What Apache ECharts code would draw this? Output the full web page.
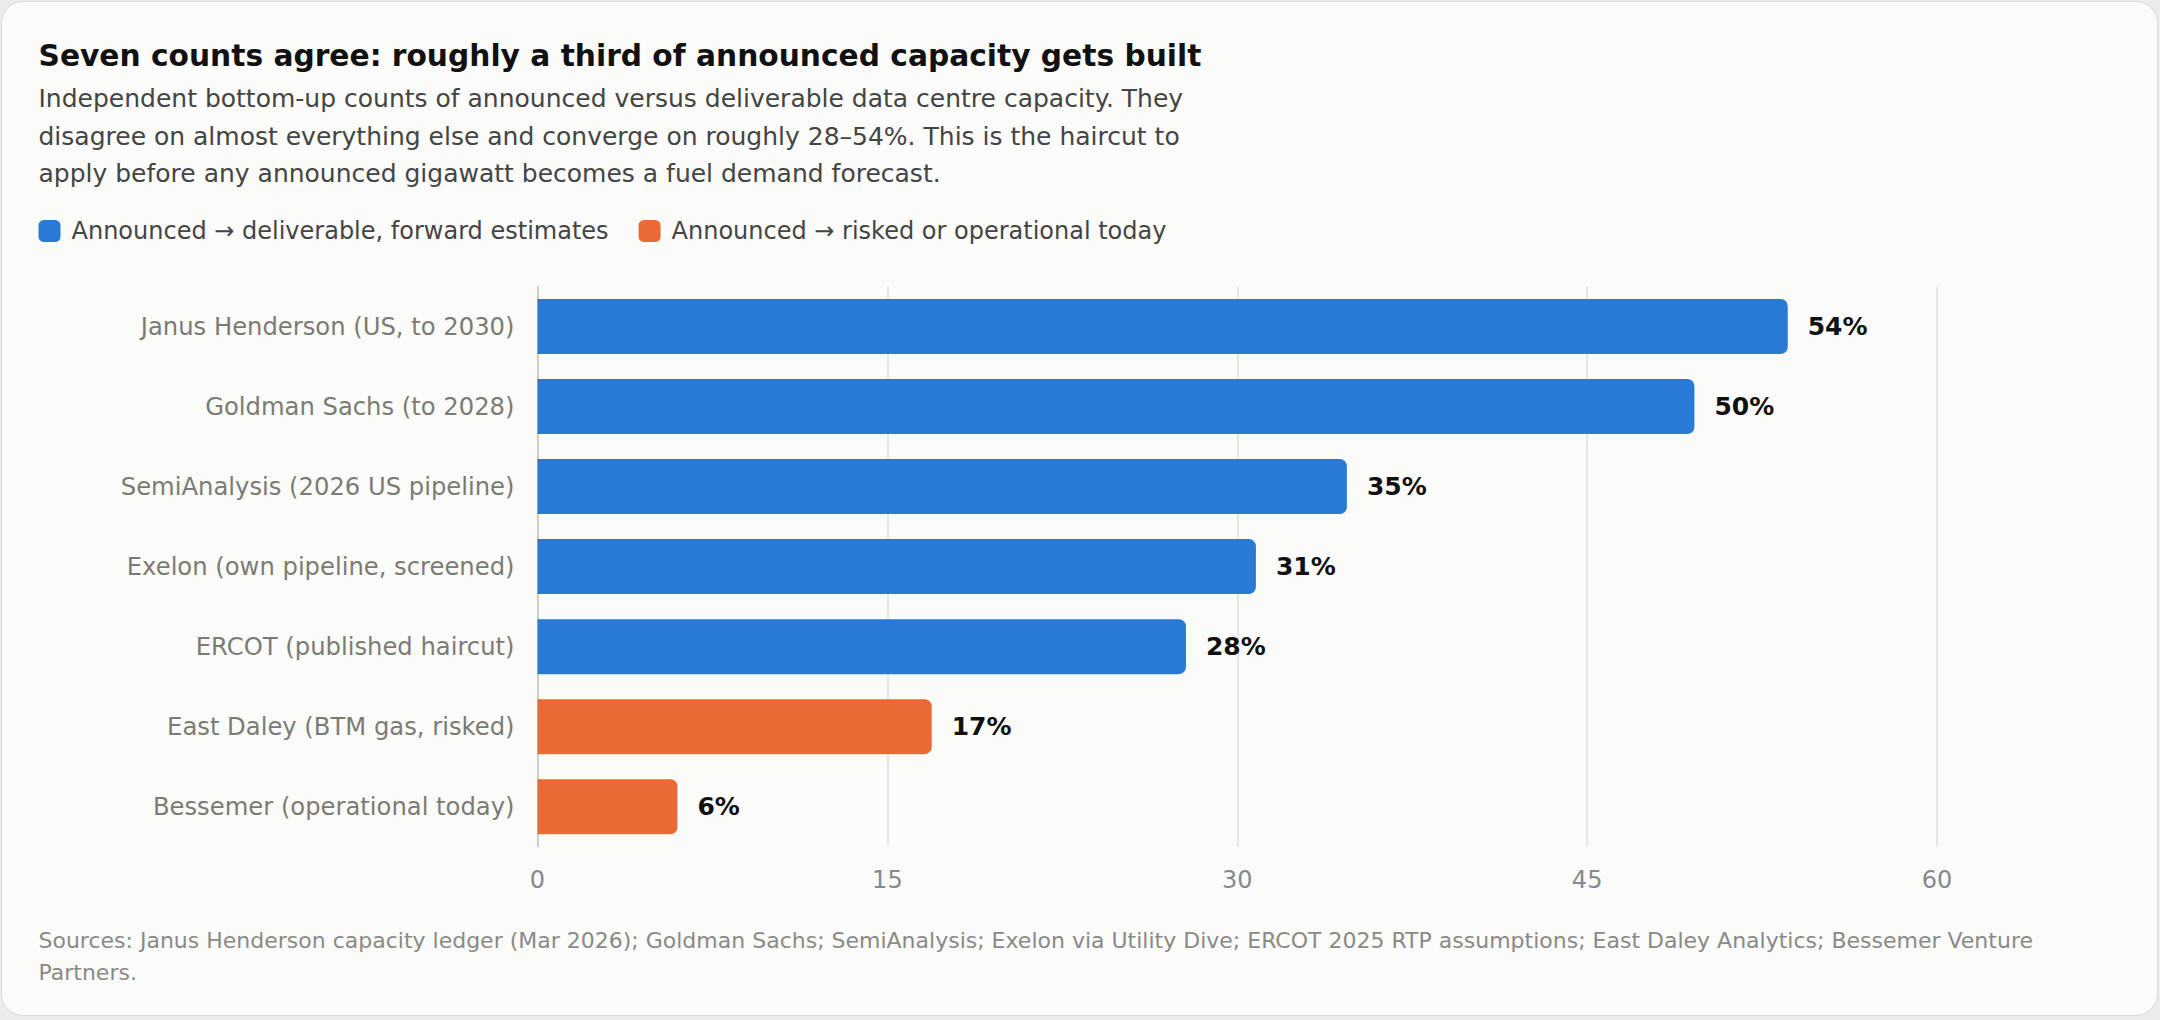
<!DOCTYPE html>
<html>
<head>
<meta charset="utf-8">
<script src="https://cdn.jsdelivr.net/npm/echarts@6/dist/echarts.min.js"></script>
<style>
  html, body { margin: 0; padding: 0; background: #ececec; }
  #card {
    position: absolute; left: 1px; top: 1px; width: 2155px; height: 1013px;
    background: #fbfbf9; border: 1.5px solid #d9d9d6; border-radius: 22px;
  }
  #chart { position: absolute; left: 0; top: 0; width: 2160px; height: 1020px; }
</style>
</head>
<body>
<div id="card"></div>
<div id="chart"></div>
<script>
// counts, top to bottom
const categories = [
  "Janus Henderson (US, to 2030)",
  "Goldman Sachs (to 2028)",
  "SemiAnalysis (2026 US pipeline)",
  "Exelon (own pipeline, screened)",
  "ERCOT (published haircut)",
  "East Daley (BTM gas, risked)",
  "Bessemer (operational today)"
];
const values = [53.6, 49.6, 34.7, 30.8, 27.8, 16.9, 6.0];
const groups = ["forward", "forward", "forward", "forward", "forward", "today", "today"];
const groupNames = {
  forward: "Announced \u2192 deliverable, forward estimates",
  today: "Announced \u2192 risked or operational today"
};
const groupColors = { forward: "#2979d6", today: "#ea6a35" };
const xTicks = [0, 15, 30, 45, 60];

const FONT = "DejaVu Sans";

const chart = echarts.init(document.getElementById("chart"), null, {
  renderer: "svg", width: 2160, height: 1020
});

const series = Object.keys(groupNames).map((g) => ({
  name: groupNames[g],
  type: "bar",
  stack: "all",
  barWidth: 55,
  itemStyle: { color: groupColors[g], borderRadius: [0, 7, 7, 0] },
  label: {
    show: true,
    position: "right",
    distance: 20,
    fontFamily: FONT,
    fontSize: 25,
    fontWeight: "bold",
    color: "#111",
    formatter: (p) => Math.round(p.value) + "%"
  },
  data: values.map((v, i) => (groups[i] === g ? v : "-"))
}));

chart.setOption({
  backgroundColor: "transparent",
  animation: false,
  textStyle: { fontFamily: FONT },
  title: [
    {
      text: "Seven counts agree: roughly a third of announced capacity gets built",
      left: 38.5, top: 40, padding: 0,
      textStyle: { fontFamily: FONT, fontSize: 29.7, fontWeight: "bold", color: "#111", lineHeight: 30 }
    },
    {
      text: "Independent bottom-up counts of announced versus deliverable data centre capacity. They\n" +
        "disagree on almost everything else and converge on roughly 28\u201354%. This is the haircut to\n" +
        "apply before any announced gigawatt becomes a fuel demand forecast.",
      left: 38.5, top: 80.4, padding: 0,
      textStyle: { fontFamily: FONT, fontSize: 25, fontWeight: "normal", color: "#444", lineHeight: 37.2 }
    },
    {
      text: "Sources: Janus Henderson capacity ledger (Mar 2026); Goldman Sachs; SemiAnalysis; Exelon via Utility Dive; ERCOT 2025 RTP assumptions; East Daley Analytics; Bessemer Venture\nPartners.",
      left: 38.5, top: 925, padding: 0,
      textStyle: { fontFamily: FONT, fontSize: 22, fontWeight: "normal", color: "#8a8a85", lineHeight: 31.7 }
    }
  ],
  legend: {
    left: 38.5, top: 219, padding: 0,
    itemWidth: 22, itemHeight: 22, itemGap: 30,
    icon: "roundRect",
    textStyle: { fontFamily: FONT, fontSize: 24, color: "#444", padding: [0, 0, 0, 6] },
    data: Object.values(groupNames)
  },
  grid: { left: 537.5, right: 223, top: 286.5, bottom: 173.3, containLabel: false },
  xAxis: {
    type: "value",
    min: xTicks[0], max: xTicks[xTicks.length - 1], interval: 15,
    axisLine: { show: false },
    axisTick: { show: false },
    axisLabel: { fontFamily: FONT, fontSize: 24, color: "#868a8f", margin: 21 },
    splitLine: { show: true, lineStyle: { color: "#e0e0dc", width: 1.5 } }
  },
  yAxis: {
    type: "category",
    inverse: true,
    data: categories,
    axisLine: { show: true, lineStyle: { color: "#c4c4c0", width: 1.5 } },
    axisTick: { show: false },
    axisLabel: { fontFamily: FONT, fontSize: 24.25, color: "#7b7b74", margin: 23 }
  },
  series: series
});
</script>
</body>
</html>
